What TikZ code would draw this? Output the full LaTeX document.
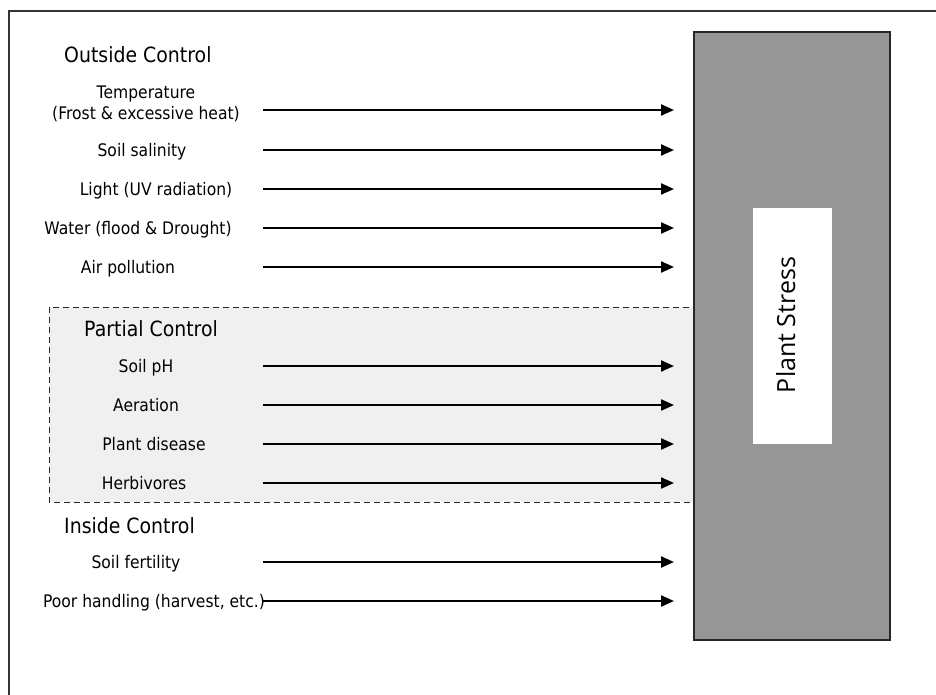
\documentclass[tikz,border=0pt]{standalone}
\usepackage{fontspec}
\setmainfont[FakeStretch=0.9]{DejaVu Sans}
\newfontfamily\stressfont{Open Sans}
\usetikzlibrary{arrows.meta}

\definecolor{boxgray}{HTML}{969696}
\definecolor{partialfill}{HTML}{F0F0F0}
\definecolor{edge}{HTML}{262626}

\begin{document}
\begin{tikzpicture}[x=1pt,y=-1pt,
  lbl/.style={font=\fontsize{17.3}{21}\selectfont, inner sep=0pt, anchor=base, align=center},
  hdr/.style={font=\fontsize{21}{24}\selectfont, inner sep=0pt, anchor=base west},
  arr/.style={line width=2.2pt, -{Triangle[length=13pt,width=11pt]}},
  zone/.style={fill=partialfill, draw=edge, line width=1pt, dash pattern=on 6pt off 4pt}]

  \useasboundingbox (0,0) rectangle (936,694);
  \clip (0,0) rectangle (936,694);

  % outer frame, running off the right and bottom edges
  \draw[line width=1.3pt, draw=black!80] (9,11) rectangle (960,720);

  % partially controlled factors
  \draw[zone] (49,307) rectangle (694,502);

  % stress block with its white caption panel
  \draw[fill=boxgray, draw=edge, line width=1.3pt] (694,32) rectangle (890,640);
  \fill[white] (753,208) rectangle (832,444);
  \node[font=\stressfont\fontsize{25}{28}\selectfont, rotate=90, anchor=base, inner sep=0pt]
    (stress) at (795,325) {Plant Stress};

  % group headings
  \node[hdr] (hout) at (64,62.5) {Outside Control};
  \node[hdr] (hpart) at (84,336) {Partial Control};
  \node[hdr] (hin) at (64,533) {Inside Control};

  % factor labels (base anchor sits on the last line)
  \node[lbl] (temp) at (146,119) {Temperature\\(Frost \& excessive heat)};
  \node[lbl] (sal)  at (142,156.5) {Soil salinity};
  \node[lbl] (light) at (156,195.5) {Light (UV radiation)};
  \node[lbl] (water) at (138,234.5) {Water (flood \& Drought)};
  \node[lbl] (air)  at (128,273.5) {Air pollution};
  \node[lbl] (ph)   at (146,372.5) {Soil pH};
  \node[lbl] (aer)  at (146,411.5) {Aeration};
  \node[lbl] (dis)  at (154,450.5) {Plant disease};
  \node[lbl] (herb) at (144,489.5) {Herbivores};
  \node[lbl] (fert) at (136,568.5) {Soil fertility};
  \node[lbl] (hand) at (154,607.5) {Poor handling (harvest, etc.)};

  % arrows into the stress block
  \foreach \name/\y in {temp/110, sal/150, light/189, water/228, air/267,
                        ph/366, aer/405, dis/444, herb/483, fert/562, hand/601} {
    \coordinate (\name-s) at (263,\y);
    \coordinate (\name-e) at (674,\y);
    \draw[arr] (\name-s) -- (\name-e);
  }
\end{tikzpicture}
\end{document}
